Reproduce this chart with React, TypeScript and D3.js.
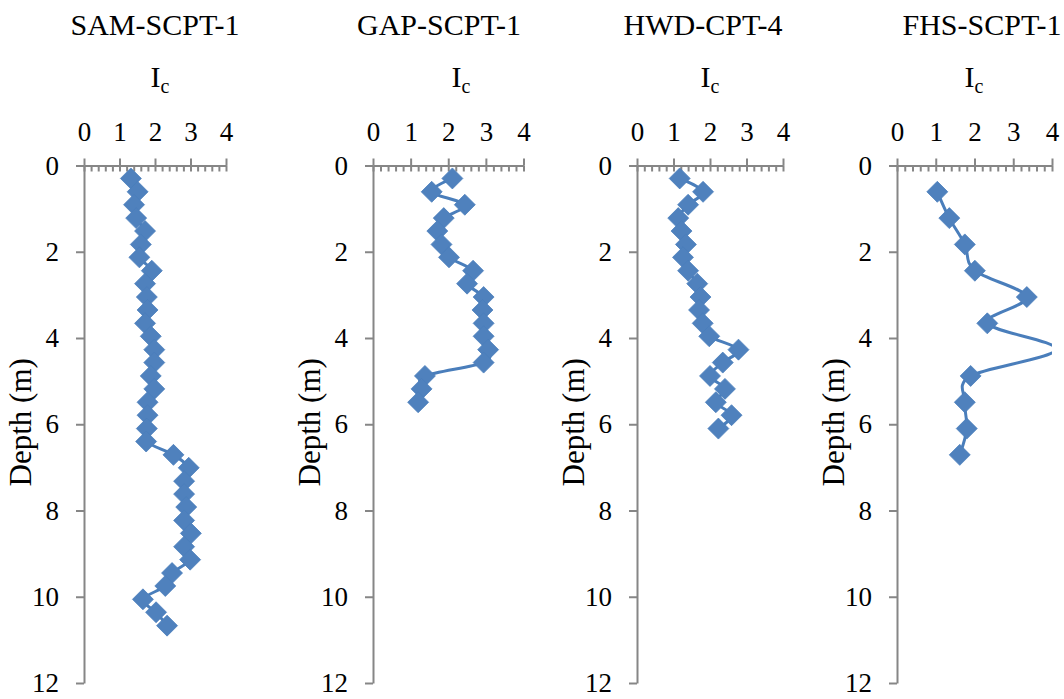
import React, { useEffect, useRef } from "react";
import * as d3 from "d3";

// per-panel data (Ic vs depth)
const samDepth = [0.30, 0.61, 0.91, 1.22, 1.52, 1.83, 2.13, 2.44, 2.74, 3.05, 3.35, 3.66, 3.96, 4.27, 4.57, 4.88, 5.18, 5.49, 5.79, 6.10, 6.40, 6.71, 7.01, 7.32, 7.62, 7.92, 8.23, 8.53, 8.84, 9.14, 9.45, 9.75, 10.06, 10.36, 10.67];
const samIc = [1.32, 1.51, 1.41, 1.47, 1.72, 1.60, 1.56, 1.91, 1.72, 1.77, 1.79, 1.72, 1.88, 1.98, 1.98, 1.88, 1.98, 1.79, 1.79, 1.77, 1.75, 2.52, 2.95, 2.82, 2.82, 2.88, 2.82, 3.01, 2.82, 2.99, 2.48, 2.29, 1.66, 2.03, 2.34];

const gapDepth = [0.30, 0.61, 0.91, 1.22, 1.52, 1.83, 2.13, 2.44, 2.74, 3.05, 3.35, 3.66, 3.96, 4.27, 4.57, 4.88, 5.18, 5.49];
const gapIc = [2.11, 1.56, 2.44, 1.88, 1.71, 1.82, 2.02, 2.66, 2.50, 2.94, 2.91, 2.94, 2.94, 3.06, 2.94, 1.38, 1.29, 1.20];

const hwdDepth = [0.30, 0.61, 0.91, 1.22, 1.52, 1.83, 2.13, 2.44, 2.74, 3.05, 3.35, 3.66, 3.96, 4.27, 4.57, 4.88, 5.18, 5.49, 5.79, 6.10];
const hwdIc = [1.17, 1.81, 1.40, 1.13, 1.22, 1.34, 1.26, 1.40, 1.65, 1.74, 1.70, 1.80, 1.98, 2.78, 2.35, 2.00, 2.41, 2.16, 2.59, 2.23];

const fhsDepth = [0.61, 1.22, 1.83, 2.44, 3.05, 3.66, 4.27, 4.88, 5.49, 6.10, 6.71];
const fhsIc = [1.04, 1.35, 1.75, 2.01, 3.35, 2.33, 4.1, 1.90, 1.75, 1.80, 1.62];

const titles = ["SAM-SCPT-1", "GAP-SCPT-1", "HWD-CPT-4", "FHS-SCPT-1"];
const icTicks = [0, 1, 2, 3, 4];
const depthTicks = [0, 2, 4, 6, 8, 10, 12];

// layout (pixels) - kept apart from the data
const panels = [
  { left: 84, right: 226, titleX: 155, icX: 160, depth: samDepth, ic: samIc },
  { left: 373, right: 523.5, titleX: 439, icX: 461, depth: gapDepth, ic: gapIc },
  { left: 637, right: 783, titleX: 703, icX: 710, depth: hwdDepth, ic: hwdIc },
  { left: 897, right: 1052, titleX: 982, icX: 974, depth: fhsDepth, ic: fhsIc },
];
const top = 165.5;
const bottom = 683;
const blue = "#4A7EBB";
const axisGrey = "#868686";
const font = "'Liberation Serif', 'Times New Roman', Tinos, serif";

function App() {
  const svgRef = useRef<SVGSVGElement>(null);

  useEffect(() => {
    const svg = d3.select(svgRef.current);
    svg.selectAll("*").remove();

    panels.forEach((p, i) => {
      const x = d3.scaleLinear().domain([0, 4]).range([p.left, p.right]);
      const y = d3.scaleLinear().domain([0, 12]).range([top, bottom]);
      const g = svg.append("g");

      // title + Ic label
      g.append("text")
        .attr("x", p.titleX).attr("y", 35)
        .attr("text-anchor", "middle")
        .attr("font-family", font)
        .attr("font-size", 30)
        .text(titles[i]);
      const ic = g.append("text")
        .attr("x", p.icX).attr("y", 87)
        .attr("text-anchor", "middle")
        .attr("font-family", font)
        .attr("font-size", 30);
      ic.append("tspan").text("I");
      ic.append("tspan").attr("font-size", 20).attr("dy", 6).text("c");

      // depth label
      g.append("text")
        .attr("transform", `translate(${p.left - 53},${(top + bottom) / 2 - 2}) rotate(-90)`)
        .attr("text-anchor", "middle")
        .attr("font-family", font)
        .attr("font-size", 31)
        .text("Depth (m)");

      // x axis at top: major ticks crossing, minor ticks inside
      const minor = d3.range(0, 4.0001, 0.2);
      g.append("g")
        .attr("transform", `translate(0,${top})`)
        .call(d3.axisBottom(x).tickValues(minor).tickSize(6).tickSizeOuter(0).tickFormat(() => ""));
      g.append("g")
        .attr("transform", `translate(0,${top})`)
        .call(d3.axisTop(x).tickValues(icTicks).tickSize(7).tickSizeOuter(0).tickPadding(17.5).tickFormat(d3.format("d")));

      // y axis
      g.append("g")
        .attr("transform", `translate(${p.left},0)`)
        .call(d3.axisLeft(y).tickValues(depthTicks).tickSize(8).tickSizeOuter(0).tickPadding(17).tickFormat(d3.format("d")));

      g.selectAll(".domain, .tick line").attr("stroke", axisGrey).attr("stroke-width", 2);
      g.selectAll(".tick text").attr("font-size", 27).attr("font-family", font).attr("fill", "#000");

      // series (line clipped to the plot area, off-scale markers hidden)
      const clipId = `clip${i}`;
      g.append("clipPath").attr("id", clipId)
        .append("rect")
        .attr("x", p.left).attr("y", top)
        .attr("width", p.right - p.left).attr("height", bottom - top);

      const pts = p.depth.map((d, k) => [p.ic[k], d] as [number, number]);
      const line = d3.line<[number, number]>()
        .x(d => x(d[0])).y(d => y(d[1]))
        .curve(d3.curveCardinal.tension(0));
      const plot = g.append("g").attr("clip-path", `url(#${clipId})`);
      plot.append("path")
        .attr("d", line(pts))
        .attr("fill", "none")
        .attr("stroke", blue)
        .attr("stroke-width", 3)
        .attr("stroke-linejoin", "round");
      g.append("g").selectAll("path")
        .data(pts.filter(d => d[0] <= 4))
        .join("path")
        .attr("transform", d => `translate(${x(d[0])},${y(d[1])})`)
        .attr("d", "M0,-10.5L10.5,0L0,10.5L-10.5,0Z")
        .attr("fill", "#4F81BD")
        .attr("stroke", blue)
        .attr("stroke-width", 0.75);
    });
  }, []);

  return (
    <svg
      ref={svgRef}
      width={1064}
      height={699}
      style={{ position: "absolute", left: 0, top: 0, background: "#fff" }}
    />
  );
}

export default App;
